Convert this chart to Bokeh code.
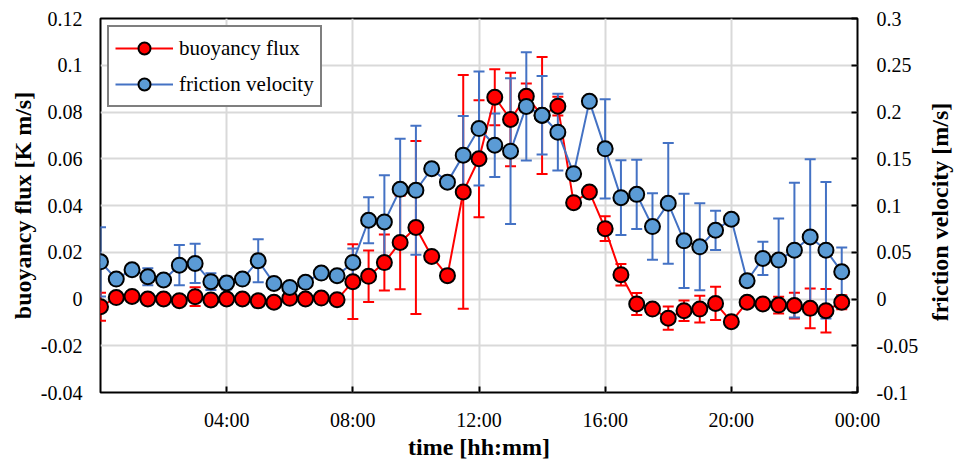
import numpy as np
from bokeh.plotting import figure
from bokeh.layouts import row
from bokeh.models import (ColumnDataSource, Range1d, LinearAxis, FixedTicker, Whisker,
                          TeeHead, Legend, LegendItem, Div)
from bokeh.embed import file_html
from bokeh.resources import INLINE

# ---- data ----
hours = np.arange(0, 24, 0.5)  # half-hourly time stamps, 00:00 .. 23:30

buoyancy_flux = [-0.0033, 0.0006, 0.0011, 0.0000, 0.0000, -0.0007, 0.0010, -0.0004,
                 0.0000, 0.0000, -0.0008, -0.0014, 0.0003, 0.0000, 0.0004, -0.0003,
                 0.0074, 0.0097, 0.0156, 0.0242, 0.0306, 0.0182, 0.0100, 0.0458,
                 0.0600, 0.0863, 0.0768, 0.0867, 0.0785, 0.0825, 0.0412, 0.0458,
                 0.0301, 0.0104, -0.0021, -0.0043, -0.0082, -0.0050, -0.0043, -0.0019,
                 -0.0097, -0.0014, -0.0021, -0.0026, -0.0028, -0.0040, -0.0050, -0.0014]
buoyancy_err = [0.006, 0.001, 0.001, 0.001, 0.001, 0.001, 0.004, 0.001,
                0.001, 0.001, 0.001, 0.001, 0.001, 0.001, 0.001, 0.001,
                0.016, 0.011, 0.012, 0.020, 0.037, 0.001, 0.001, 0.050,
                0.025, 0.012, 0.020, 0.0055, 0.025, 0.004, 0.001, 0.001,
                0.0053, 0.0046, 0.0047, 0.001, 0.005, 0.0044, 0.0057, 0.0071,
                0.001, 0.001, 0.001, 0.0036, 0.0055, 0.0085, 0.0093, 0.003]

friction_velocity = [0.0398, 0.0213, 0.0313, 0.0238, 0.0203, 0.0362, 0.0380, 0.0185,
                     0.0171, 0.0213, 0.0409, 0.0167, 0.0124, 0.0178, 0.0277, 0.0249,
                     0.0391, 0.0842, 0.0824, 0.1173, 0.1162, 0.1393, 0.1250, 0.1538,
                     0.1823, 0.1645, 0.1581, 0.2060, 0.1965, 0.1784, 0.1340, 0.2114,
                     0.1606, 0.1084, 0.1119, 0.0775, 0.1023, 0.0622, 0.0558, 0.0735,
                     0.0853, 0.0195, 0.0434, 0.0416, 0.0522, 0.0664, 0.0522, 0.0291]
friction_err = [0.037, 0.004, 0.004, 0.009, 0.004, 0.0215, 0.021, 0.009,
                0.007, 0.005, 0.023, 0.004, 0.004, 0.004, 0.006, 0.004,
                0.015, 0.0245, 0.050, 0.054, 0.069, 0.004, 0.004, 0.042,
                0.061, 0.034, 0.078, 0.058, 0.042, 0.041, 0.004, 0.004,
                0.053, 0.040, 0.037, 0.0355, 0.0645, 0.0505, 0.0465, 0.021,
                0.004, 0.004, 0.0178, 0.0445, 0.072, 0.083, 0.073, 0.026]

x_ticks = [4, 8, 12, 16, 20, 24]
x_tick_labels = ["04:00", "08:00", "12:00", "16:00", "20:00", "00:00"]
left_ticks = [-0.04, -0.02, 0, 0.02, 0.04, 0.06, 0.08, 0.1, 0.12]
left_tick_labels = ["-0.04", "-0.02", "0", "0.02", "0.04", "0.06", "0.08", "0.1", "0.12"]
right_ticks = [-0.1, -0.05, 0, 0.05, 0.1, 0.15, 0.2, 0.25, 0.3]
right_tick_labels = ["-0.1", "-0.05", "0", "0.05", "0.1", "0.15", "0.2", "0.25", "0.3"]

x_title = "time [hh:mm]"
y_title = "buoyancy flux [K m/s]"
y2_title = "friction velocity [m/s]"

FONT = "Liberation Serif"
RED = "#ff0000"
BLUE_LINE = "#4472c4"
BLUE_FILL = "#5b9bd5"

bf = np.array(buoyancy_flux)
be = np.array(buoyancy_err)
fv = np.array(friction_velocity)
fe = np.array(friction_err)

src_b = ColumnDataSource(dict(x=hours, y=bf, lo=bf - be, hi=bf + be))
src_f = ColumnDataSource(dict(x=hours, y=fv, lo=fv - fe, hi=fv + fe))

p = figure(width=922, height=462, output_backend="svg", toolbar_location=None,
           x_range=Range1d(0, 24), y_range=Range1d(-0.04, 0.12),
           min_border_left=100, min_border_right=65, min_border_top=18, min_border_bottom=69)
p.extra_y_ranges = {"fv": Range1d(-0.1, 0.3)}

p.outline_line_color = "black"
p.outline_line_width = 2
p.background_fill_color = "white"
p.border_fill_color = "white"

# grid
p.xgrid.ticker = FixedTicker(ticks=x_ticks)
p.ygrid.ticker = FixedTicker(ticks=left_ticks)
for g in (p.xgrid, p.ygrid):
    g.grid_line_color = "#d9d9d9"
    g.grid_line_width = 2

# bottom axis
xa = p.xaxis[0]
xa.ticker = FixedTicker(ticks=x_ticks)
xa.major_label_overrides = {t: l for t, l in zip(x_ticks, x_tick_labels)}
xa.axis_label = x_title

# left axis
ya = p.yaxis[0]
ya.ticker = FixedTicker(ticks=left_ticks)
ya.major_label_overrides = {t: l for t, l in zip(left_ticks, left_tick_labels)}
ya.axis_label = y_title

# right axis (title drawn beside the figure, reading bottom-to-top)
ra = LinearAxis(y_range_name="fv", ticker=FixedTicker(ticks=right_ticks))
ra.major_label_overrides = {t: l for t, l in zip(right_ticks, right_tick_labels)}
p.add_layout(ra, "right")

for ax in (xa, ya, ra):
    ax.axis_line_color = None
    ax.minor_tick_line_color = None
    ax.major_tick_out = 0
    ax.major_tick_in = 6
    ax.major_tick_line_color = "black"
    ax.major_tick_line_width = 2
    ax.major_label_text_font = FONT
    ax.major_label_text_font_size = "20px"
    ax.major_label_text_color = "black"
    ax.axis_label_text_font = FONT
    ax.axis_label_text_font_size = "24px"
    ax.axis_label_text_font_style = "bold"
    ax.axis_label_text_color = "black"
ya.major_tick_line_color = None
xa.major_label_standoff = 16
xa.axis_label_standoff = 0
ya.major_label_standoff = 18
ya.axis_label_standoff = 2
ra.major_label_standoff = 19

# buoyancy flux series
l1 = p.line("x", "y", source=src_b, line_color=RED, line_width=2)
w1 = Whisker(source=src_b, base="x", lower="lo", upper="hi", line_color=RED, line_width=2,
             upper_head=TeeHead(size=11, line_color=RED, line_width=2),
             lower_head=TeeHead(size=11, line_color=RED, line_width=2))
p.add_layout(w1)
s1 = p.scatter("x", "y", source=src_b, size=15, fill_color=RED, line_color="black", line_width=2)

# friction velocity series (secondary axis)
l2 = p.line("x", "y", source=src_f, line_color=BLUE_LINE, line_width=2, y_range_name="fv")
w2 = Whisker(source=src_f, base="x", lower="lo", upper="hi", y_range_name="fv",
             line_color=BLUE_LINE, line_width=2,
             upper_head=TeeHead(size=11, line_color=BLUE_LINE, line_width=2),
             lower_head=TeeHead(size=11, line_color=BLUE_LINE, line_width=2))
p.add_layout(w2)
s2 = p.scatter("x", "y", source=src_f, size=15, fill_color=BLUE_FILL, line_color="black",
               line_width=2, y_range_name="fv")

legend = Legend(items=[LegendItem(label="buoyancy flux", renderers=[l1, s1]),
                       LegendItem(label="friction velocity", renderers=[l2, s2])],
                location="top_left", margin=7, padding=6, spacing=6,
                glyph_width=58, glyph_height=30, label_height=30, label_standoff=6,
                label_text_font=FONT, label_text_font_size="21px", label_text_color="black",
                border_line_color="black", border_line_width=2,
                background_fill_color="white", background_fill_alpha=1)
p.add_layout(legend)

# right-hand axis title, rotated to read bottom-to-top like the left one
right_title = Div(
    text=('<div style="position:absolute; left:50%; top:207px; white-space:nowrap; '
          'transform:translate(-50%,-50%) rotate(-90deg); '
          "font-family:'Liberation Serif'; font-weight:bold; font-size:24px; color:black;\">"
          + y2_title + '</div>'),
    width=25, height=462, styles={"position": "relative", "overflow": "visible"})

layout = row(p, right_title, spacing=0)

open("out.html", "w").write(file_html(layout, INLINE))
